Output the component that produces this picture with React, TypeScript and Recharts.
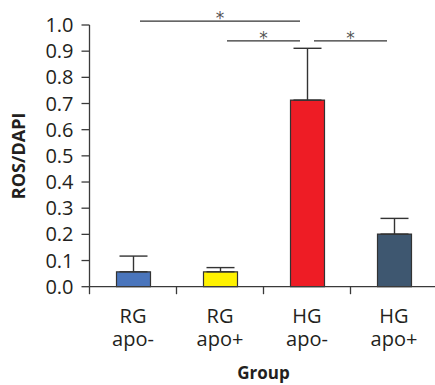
import React from "react"
import {
  BarChart,
  Bar,
  Cell,
  XAxis,
  YAxis,
  ErrorBar,
  ReferenceLine,
  Label,
} from "recharts"

const groups = ["RG apo-", "RG apo+", "HG apo-", "HG apo+"]
const means = [0.057, 0.057, 0.713, 0.201]
const errors = [0.06, 0.016, 0.198, 0.06]
const barColors = ["#4a75bc", "#fff200", "#ee1c25", "#3e5770"]
const yTicks = [0, 0.1, 0.2, 0.3, 0.4, 0.5, 0.6, 0.7, 0.8, 0.9, 1.0]

// significance brackets: from group, to group, height on the y scale
const sigFrom = ["RG apo-", "RG apo+", "HG apo-"]
const sigTo = ["HG apo-", "HG apo-", "HG apo+"]
const sigY = [1.015, 0.939, 0.939]

const data = groups.map((g, i) => ({
  group: g,
  value: means[i],
  err: [0, errors[i]],
}))

const W = 440
const H = 385
const MARGIN = { top: 25, right: 2.5, left: 0, bottom: 0 }
const Y_AXIS_W = 89.5
const X_AXIS_H = 98.3
const BAND_HALF = (W - MARGIN.left - MARGIN.right - Y_AXIS_W) / groups.length / 2

const INK = "#231f20"
const AXIS = "#3a3a3a"
const FONT = "'Open Sans', 'Noto Sans', sans-serif"

function GroupTick(props: any) {
  const { x, y, payload } = props
  const [top, bottom] = String(payload.value).split(" ")
  const half = typeof payload.offset === "number" && payload.offset > 0 ? payload.offset : BAND_HALF
  return (
    <g>
      <line x1={x - half} x2={x - half} y1={y} y2={y + 7.5} stroke={AXIS} strokeWidth={1.3} />
      <text x={x} y={y + 36.5} textAnchor="middle" fontSize={20} fontFamily={FONT} fill={INK}>
        <tspan x={x}>{top}</tspan>
        <tspan x={x} dy={22.5}>{bottom}</tspan>
      </text>
    </g>
  )
}

function SigShape(props: any) {
  const { x1, x2, y1 } = props
  const a = Math.min(x1, x2) + 7
  const b = Math.max(x1, x2) - 7
  return (
    <g>
      <line x1={a} x2={b} y1={y1} y2={y1} stroke="#333" strokeWidth={1.3} />
      <text
        x={(a + b) / 2}
        y={y1 + 3}
        textAnchor="middle"
        fontSize={17}
        fontFamily="'DejaVu Sans', sans-serif"
        fill="#555"
      >
        *
      </text>
    </g>
  )
}

export default function App() {
  return (
    <div style={{ position: "absolute", left: 0, top: 0, width: 435, height: 385, overflow: "hidden", background: "#fff" }}>
      <BarChart width={W} height={H} data={data} margin={MARGIN}>
        <XAxis
          dataKey="group"
          interval={0}
          height={X_AXIS_H}
          tickLine={false}
          tickSize={0}
          tickMargin={0}
          tick={<GroupTick />}
          axisLine={{ stroke: AXIS, strokeWidth: 1.3 }}
        >
          <Label
            value="Group"
            position="insideBottom"
            offset={6}
            style={{ fontFamily: FONT, fontSize: 17, fontWeight: 700, fill: INK }}
          />
        </XAxis>
        <YAxis
          width={Y_AXIS_W}
          domain={[0, 1]}
          ticks={yTicks}
          interval={0}
          tickFormatter={(v: number) => v.toFixed(1)}
          tickSize={8}
          tickMargin={8}
          tick={{ fontFamily: FONT, fontSize: 20, fill: INK }}
          tickLine={{ stroke: AXIS, strokeWidth: 1.3 }}
          axisLine={{ stroke: AXIS, strokeWidth: 1.3 }}
        >
          <Label
            value="ROS/DAPI"
            angle={-90}
            position="insideLeft"
            offset={18.5}
            style={{ fontFamily: FONT, fontSize: 18, fontWeight: 700, fill: INK, textAnchor: "middle" }}
          />
        </YAxis>
        <Bar dataKey="value" barSize={34} stroke="#333" strokeWidth={1.2} isAnimationActive={false}>
          {data.map((d, i) => (
            <Cell key={d.group} fill={barColors[i]} />
          ))}
          <ErrorBar dataKey="err" width={14} stroke="#333" strokeWidth={1.4} isAnimationActive={false} />
        </Bar>
        {sigFrom.map((f, i) => (
          <ReferenceLine
            key={i}
            segment={[
              { x: f, y: sigY[i] },
              { x: sigTo[i], y: sigY[i] },
            ]}
            ifOverflow="visible"
            shape={<SigShape />}
          />
        ))}
      </BarChart>
    </div>
  )
}
